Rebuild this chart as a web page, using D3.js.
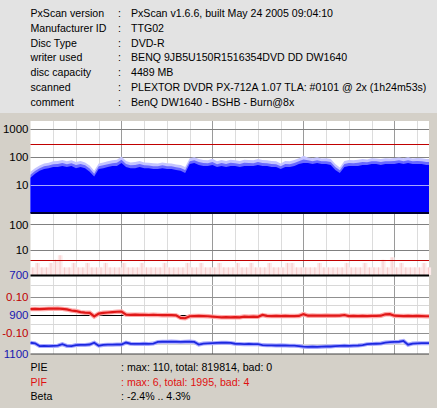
<!DOCTYPE html>
<html><head><meta charset="utf-8">
<script src="https://cdn.jsdelivr.net/npm/d3@7"></script>
<style>
html,body{margin:0;padding:0;background:#d4d0c8;}
svg{display:block;font-family:"Liberation Sans",Arial,sans-serif;font-size:10.6px;}
</style></head><body>
<svg id="c" width="437" height="408"></svg>
<script>
// ---------- data ----------
const headerLabels = ["PxScan version","Manufacturer ID","Disc Type","writer used","disc capacity","scanned","comment"];
const headerValues = ["PxScan v1.6.6, built May 24 2005 09:04:10","TTG02","DVD-R","BENQ 9JB5U150R1516354DVD DD DW1640","4489 MB","PLEXTOR DVDR PX-712A 1.07 TLA: #0101 @ 2x (1h24m53s)","BenQ DW1640 - BSHB - Burn@8x"];
const footerLabels = ["PIE","PIF","Beta"];
const footerValues = [": max: 110, total: 819814, bad: 0", ": max: 6, total: 1995, bad: 4", ": -2.4% .. 4.3%"];

const discGB = 4.38;          // x extent (GB)
const sampleStep = 0.05;      // GB between samples
const gridStepGB = 0.25;

const pieAvg = [18,25,32,37,40,44,44,48,44,48,
  40,44,40,30,20,37,40,44,48,48,
  61,44,40,40,44,40,40,37,37,40,
  37,37,34,32,27,56,61,52,48,48,
  52,44,48,44,48,48,44,48,48,48,
  52,48,48,44,44,37,44,44,48,56,
  61,61,56,61,56,56,52,34,27,44,
  48,48,48,52,52,56,56,52,56,56,
  56,61,56,61,56,56,56,52];
const pieMax = [30,40,50,58,62,70,72,78,70,76,
  66,72,64,50,32,58,64,70,76,80,
  104,72,64,66,72,64,62,60,58,64,
  60,58,54,52,44,90,98,84,78,76,
  86,70,78,72,80,76,72,80,78,76,
  84,78,76,72,70,58,72,70,78,90,
  110,96,90,98,88,90,84,56,42,72,
  78,76,80,84,82,90,88,84,90,88,
  92,96,90,98,88,92,90,84];
const pifValues = [2,3,2,2,3,4,6,2,2,3,
  2,2,3,2,2,2,3,2,2,2,
  3,2,2,2,3,2,2,2,2,3,
  2,2,2,2,3,2,2,3,2,2,
  2,3,2,2,2,3,2,2,3,2,
  2,2,3,2,2,2,3,3,2,2,
  2,2,2,3,2,2,2,2,2,3,
  2,2,2,3,2,2,2,4,2,5,
  2,3,2,2,2,2,3,2];
const betaValues = [0.033,0.034,0.033,0.034,0.035,0.035,0.036,0.034,0.031,0.025,
  0.022,0.016,0.013,0.012,-0.008,0.008,0.012,0.014,0.016,0.018,
  0.019,0.002,0.001,0.002,0.001,0.001,0.000,0.001,0.000,-0.001,
  0.000,-0.001,-0.002,-0.016,-0.018,-0.007,-0.006,-0.005,-0.006,-0.007,
  -0.009,-0.011,-0.013,-0.012,-0.013,-0.012,-0.013,-0.009,-0.010,-0.009,
  -0.010,0.000,-0.005,-0.006,-0.005,-0.006,-0.005,-0.006,-0.006,-0.005,
  0.005,-0.004,-0.003,-0.004,-0.004,-0.003,-0.004,-0.004,-0.003,0.000,
  -0.006,-0.005,-0.006,-0.005,-0.006,-0.005,-0.005,-0.004,0.004,0.005,
  -0.004,-0.005,-0.006,-0.005,-0.006,-0.005,-0.006,-0.007];
const jitterValues = [1043,1046,1060,1059,1060,1059,1058,1050,1059,1060,
  1055,1054,1054,1052,1043,1058,1054,1053,1053,1052,
  1052,1042,1048,1049,1049,1048,1049,1047,1039,1038,
  1038,1037,1038,1039,1038,1037,1039,1052,1047,1046,
  1045,1044,1043,1043,1044,1048,1049,1050,1049,1050,
  1050,1055,1056,1056,1057,1056,1057,1058,1058,1060,
  1063,1064,1063,1064,1063,1062,1062,1060,1059,1058,
  1059,1058,1057,1055,1050,1049,1048,1047,1042,1040,
  1039,1038,1034,1053,1047,1046,1045,1045];

const pieTicks = [10,100,1000];
const pieLimit = 280;
const pifTicks = [10,100];
const pifLimit = 4;
const jitterTicks = [700,900,1100];
const jitterMinor = [750,850,950,1050];
const betaTicks = [0.10,-0.10];
const betaTickLabels = ["0.10","-0.10"];

// ---------- drawing ----------
const svg = d3.select("#c");
const W = 437, H = 408;
svg.append("rect").attr("width",W).attr("height",113).attr("fill","#e3e3e3");
svg.append("rect").attr("y",113).attr("width",W).attr("height",H-113).attr("fill","#d4d0c8");

const x = d3.scaleLinear().domain([0,discGB]).range([30.5,429]);
const yPie = d3.scaleLog().domain([1,Math.pow(10,92/28)]).range([213,121]);
const yPif = d3.scaleLog().domain([1,Math.pow(10,61/25.3)]).range([275,214]);
const yJit = d3.scaleLinear().domain([700,1100]).range([275,354]);
const yBeta = d3.scaleLinear().domain([-0.10,0.10]).range([333,297]);

const X0 = x(0), X1 = x(discGB);
svg.append("rect").attr("x",X0).attr("y",121).attr("width",X1-X0).attr("height",354-121).attr("fill","#fff");

// vertical grid
const vTicks = d3.range(gridStepGB, discGB, gridStepGB);
svg.append("g").selectAll("line").data(vTicks).join("line")
  .attr("x1",d=>Math.round(x(d))+0.5).attr("x2",d=>Math.round(x(d))+0.5)
  .attr("y1",121).attr("y2",354)
  .attr("stroke",d=>Math.abs(d-Math.round(d))<1e-6?"#9a9a9a":"#dcdcdc").attr("stroke-width",1);

function hline(y, color, w){
  svg.append("line").attr("x1",X0).attr("x2",X1).attr("y1",y).attr("y2",y)
    .attr("stroke",color).attr("stroke-width",w||1);
}
// top chart grid
pieTicks.filter(t=>t>10).forEach(t=>hline(Math.round(yPie(t))+0.5,"#808080"));

// PIE data
const idx = pieAvg.map((_,i)=>i);
const px = i => x(Math.min(i*sampleStep, discGB));
const ext = arr => arr.concat([arr[arr.length-1]]);
const xs = ext(idx.map(i=>i*sampleStep)).map((d,i,a)=> i===a.length-1? discGB : d);
const areaPie = vals => d3.area().x((d,i)=>x(xs[i])).y0(yPie(1)).y1(d=>yPie(d)).curve(d3.curveLinear)(ext(vals));
svg.append("path").attr("d",areaPie(pieMax)).attr("fill","#c4c4ff");
const mid = pieAvg.map((v,i)=>Math.sqrt(v*pieMax[i]));
svg.append("path").attr("d",areaPie(mid)).attr("fill","#6a6aff");
svg.append("path").attr("d",areaPie(pieAvg)).attr("fill","#0000ff");
hline(Math.round(yPie(10))+0.5,"#a6a6ff");
hline(Math.round(yPie(pieLimit))+0.5,"#c00000",1.2);
hline(213,"#000030",2);

// PIF
pifTicks.forEach(t=>hline(Math.round(yPif(t))+0.5,"#808080"));
const bw = x(sampleStep)-x(0);
svg.append("g").selectAll("rect").data(pifValues).join("rect")
  .attr("x",(d,i)=>px(i)).attr("width",bw+0.3)
  .attr("y",d=>yPif(d)).attr("height",d=>yPif(1)-yPif(d))
  .attr("fill","#fdeaea");
svg.append("g").selectAll("line").data(pifValues).join("line")
  .attr("x1",(d,i)=>px(i)+bw/2).attr("x2",(d,i)=>px(i)+bw/2)
  .attr("y1",yPif(1)).attr("y2",d=>yPif(d))
  .attr("stroke","#f6caca").attr("stroke-width",1);
hline(Math.round(yPif(pifLimit))+0.5,"#c00000",1.2);
hline(275.5,"#000",2.2);

// bottom chart grid
jitterMinor.forEach(t=>hline(Math.round(yJit(t))+0.5,"#d8d8d8"));
betaTicks.forEach(t=>hline(Math.round(yBeta(t))+0.5,"#909090"));
hline(Math.round(yJit(900))+0.5,"#000");
hline(354,"#404040",1);

const lineB = d3.line().x((d,i)=>x(xs[i])).y(d=>yBeta(d));
svg.append("path").attr("d",lineB(ext(betaValues))).attr("fill","none").attr("stroke","#ffa8a8").attr("stroke-width",4.5);
svg.append("path").attr("d",lineB(ext(betaValues))).attr("fill","none").attr("stroke","#e01818").attr("stroke-width",2.2);
const lineJ = d3.line().x((d,i)=>x(xs[i])).y(d=>yJit(d));
svg.append("path").attr("d",lineJ(ext(jitterValues))).attr("fill","none").attr("stroke","#a8a8ff").attr("stroke-width",4);
svg.append("path").attr("d",lineJ(ext(jitterValues))).attr("fill","none").attr("stroke","#1c28e0").attr("stroke-width",1.8);

// axes labels
function axisLabels(scale, ticks, fmt, color){
  const g = svg.append("g").attr("transform",`translate(${X0},0)`)
    .call(d3.axisLeft(scale).tickValues(ticks).tickSize(0).tickPadding(2).tickFormat(fmt));
  g.select(".domain").remove();
  g.selectAll("text").attr("fill",color).attr("font-family","Liberation Sans, Arial, sans-serif").attr("font-size","11.5px");
}
axisLabels(yPie, pieTicks, d3.format("d"), "#000");
axisLabels(yPif, pifTicks, d3.format("d"), "#000");
axisLabels(yJit, jitterTicks, d3.format("d"), "#1818b0");
axisLabels(yBeta, betaTicks, (d,i)=>betaTickLabels[i], "#c00000");

// header
const hg = svg.append("g");
headerLabels.forEach((l,i)=>{
  const y = 17 + i*14.8;
  hg.append("text").attr("x",30.5).attr("y",y).text(l);
  hg.append("text").attr("x",118).attr("y",y).text(":");
  hg.append("text").attr("x",131).attr("y",y).text(headerValues[i]);
});
// footer
const fColors = ["#000","#e01010","#000"];
footerLabels.forEach((l,i)=>{
  const y = 371 + i*14.5;
  svg.append("text").attr("x",30.5).attr("y",y).attr("fill",fColors[i]).text(l);
  svg.append("text").attr("x",121).attr("y",y).attr("fill",fColors[i]).text(footerValues[i]);
});
</script>
</body></html>
